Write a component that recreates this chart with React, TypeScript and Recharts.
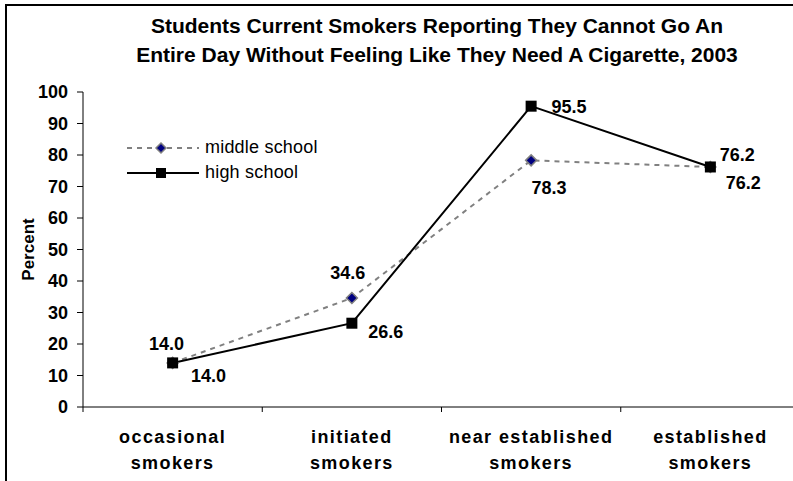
import React from 'react';
import { LineChart, Line, XAxis, YAxis, Legend, LabelList, Label } from 'recharts';

// ---- data ----
const categories = [
  'occasional smokers',
  'initiated smokers',
  'near established smokers',
  'established smokers',
];
const middleSchool = [14.0, 34.6, 78.3, 76.2];
const highSchool = [14.0, 26.6, 95.5, 76.2];
const yTicks = [0, 10, 20, 30, 40, 50, 60, 70, 80, 90, 100];
const titleLines = [
  'Students Current Smokers Reporting They Cannot Go An',
  'Entire Day Without Feeling Like They Need A Cigarette, 2003',
];

const data = categories.map((category, i) => ({
  category,
  middle: middleSchool[i],
  high: highSchool[i],
}));

// ---- layout / style ----
const FONT = '"Liberation Sans", Arial, Helvetica, sans-serif';
const CHART_W = 810;
const CHART_H = 481;
const AXIS_W = 83;
const MARGIN = { top: 92, right: 10, left: 0, bottom: 0 };
const X_AXIS_H = 74;
const HALF_BAND = (CHART_W - AXIS_W - MARGIN.right) / categories.length / 2;

const MIDDLE_STROKE = '#808080';
const MIDDLE_FILL = '#000080';
const HIGH_STROKE = '#000000';

// label placement relative to each point (dx, dy of the text centre)
const middleLabelOffsets: [number, number][] = [[-6, -19], [-4, -25], [18, 28], [33, 16]];
const highLabelOffsets: [number, number][] = [[36, 13], [34, 9], [38, 1], [27, -12]];

const Diamond = ({ cx, cy, r = 5.5 }: { cx: number; cy: number; r?: number }) => (
  <polygon
    points={`${cx},${cy - r} ${cx + r},${cy} ${cx},${cy + r} ${cx - r},${cy}`}
    fill={MIDDLE_FILL}
    stroke={MIDDLE_STROKE}
    strokeWidth={1.5}
  />
);

const Square = ({ cx, cy, s = 11 }: { cx: number; cy: number; s?: number }) => (
  <rect x={cx - s / 2} y={cy - s / 2} width={s} height={s} fill={HIGH_STROKE} />
);

const renderDiamondDot = (props: any) => {
  const { cx, cy, index } = props;
  if (cx == null || cy == null) return <g key={`md-${index}`} />;
  return <Diamond key={`md-${index}`} cx={cx} cy={cy} />;
};

const renderSquareDot = (props: any) => {
  const { cx, cy, index } = props;
  if (cx == null || cy == null) return <g key={`hs-${index}`} />;
  return <Square key={`hs-${index}`} cx={cx} cy={cy} />;
};

const makeValueLabel = (offsets: [number, number][]) => (props: any) => {
  const { x, y, value, index } = props;
  const [dx, dy] = offsets[index] || [0, -14];
  return (
    <text
      x={x + dx}
      y={y + dy}
      textAnchor="middle"
      dominantBaseline="central"
      fontFamily={FONT}
      fontWeight="bold"
      fontSize={18}
      fill="#000"
    >
      {Number(value).toFixed(1)}
    </text>
  );
};

const CategoryTick = (props: any) => {
  const { x, y, payload, index } = props;
  const words = String(payload.value).split(' ');
  const last = words.pop();
  const first = words.join(' ');
  return (
    <g>
      {index === 0 && (
        <line x1={x - HALF_BAND} x2={x - HALF_BAND} y1={y} y2={y + 5} stroke="#000" strokeWidth={1} />
      )}
      <line x1={x + HALF_BAND} x2={x + HALF_BAND} y1={y} y2={y + 5} stroke="#000" strokeWidth={1} />
      <text
        x={x}
        y={y + 36}
        textAnchor="middle"
        fontFamily={FONT}
        fontWeight="bold"
        fontSize={18}
        letterSpacing={1.4}
        fill="#000"
      >
        {first}
      </text>
      <text
        x={x}
        y={y + 62}
        textAnchor="middle"
        fontFamily={FONT}
        fontWeight="bold"
        fontSize={18}
        letterSpacing={1.4}
        fill="#000"
      >
        {last}
      </text>
    </g>
  );
};

const renderLegend = () => (
  <div style={{ fontFamily: FONT, fontSize: 18, color: '#000', letterSpacing: 0.2 }}>
    <div style={{ display: 'flex', alignItems: 'center', height: 25 }}>
      <svg width={72} height={14} style={{ display: 'block' }}>
        <line x1={0} x2={72} y1={7} y2={7} stroke={MIDDLE_STROKE} strokeWidth={2} strokeDasharray="5 5" />
        <Diamond cx={34} cy={7} r={5} />
      </svg>
      <span style={{ marginLeft: 6, whiteSpace: 'nowrap' }}>middle school</span>
    </div>
    <div style={{ display: 'flex', alignItems: 'center', height: 25 }}>
      <svg width={72} height={14} style={{ display: 'block' }}>
        <line x1={0} x2={72} y1={7} y2={7} stroke={HIGH_STROKE} strokeWidth={2} />
        <Square cx={34} cy={7} s={10} />
      </svg>
      <span style={{ marginLeft: 6, whiteSpace: 'nowrap' }}>high school</span>
    </div>
  </div>
);

const PercentLabel = (props: any) => {
  const { viewBox } = props;
  const cx = 28;
  const cy = viewBox.y + viewBox.height / 2;
  return (
    <text
      x={cx}
      y={cy}
      transform={`rotate(-90, ${cx}, ${cy})`}
      textAnchor="middle"
      dominantBaseline="central"
      fontFamily={FONT}
      fontWeight="bold"
      fontSize={17}
      fill="#000"
    >
      Percent
    </text>
  );
};

export default function App() {
  return (
    <div
      style={{
        position: 'absolute',
        left: 0,
        top: 0,
        width: 793,
        height: 481,
        overflow: 'hidden',
        background: '#fff',
      }}
    >
      <div
        style={{
          position: 'absolute',
          left: 5,
          top: 4,
          width: 1000,
          height: 1000,
          borderLeft: '2px solid #000',
          borderTop: '2px solid #000',
        }}
      />
      {titleLines.map((line, i) => (
        <div
          key={line}
          style={{
            position: 'absolute',
            left: 37,
            width: 800,
            top: 11 + i * 29,
            lineHeight: '30px',
            textAlign: 'center',
            fontFamily: FONT,
            fontWeight: 'bold',
            fontSize: 21,
            color: '#000',
            whiteSpace: 'nowrap',
          }}
        >
          {line}
        </div>
      ))}
      <div style={{ position: 'absolute', left: 0, top: 0 }}>
        <LineChart width={CHART_W} height={CHART_H} data={data} margin={MARGIN}>
          <XAxis
            dataKey="category"
            height={X_AXIS_H}
            padding={{ left: HALF_BAND, right: HALF_BAND }}
            axisLine={{ stroke: '#000', strokeWidth: 1 }}
            tickLine={false}
            tickSize={0}
            tickMargin={0}
            interval={0}
            tick={<CategoryTick />}
          />
          <YAxis
            width={AXIS_W}
            domain={[0, 100]}
            ticks={yTicks}
            interval={0}
            axisLine={{ stroke: '#000', strokeWidth: 1 }}
            tickLine={{ stroke: '#000', strokeWidth: 1 }}
            tickSize={6}
            tickMargin={9}
            tick={{ fontFamily: FONT, fontWeight: 'bold', fontSize: 18, fill: '#000' }}
          >
            <Label content={<PercentLabel />} />
          </YAxis>
          <Legend
            layout="vertical"
            verticalAlign="middle"
            align="center"
            content={renderLegend}
            wrapperStyle={{ left: 127, top: 135, width: 'auto', height: 'auto' }}
          />
          <Line
            type="linear"
            dataKey="middle"
            name="middle school"
            stroke={MIDDLE_STROKE}
            strokeWidth={2}
            strokeDasharray="5 5"
            dot={renderDiamondDot}
            activeDot={false}
            isAnimationActive={false}
          >
            <LabelList dataKey="middle" content={makeValueLabel(middleLabelOffsets)} />
          </Line>
          <Line
            type="linear"
            dataKey="high"
            name="high school"
            stroke={HIGH_STROKE}
            strokeWidth={2}
            dot={renderSquareDot}
            activeDot={false}
            isAnimationActive={false}
          >
            <LabelList dataKey="high" content={makeValueLabel(highLabelOffsets)} />
          </Line>
        </LineChart>
      </div>
    </div>
  );
}
